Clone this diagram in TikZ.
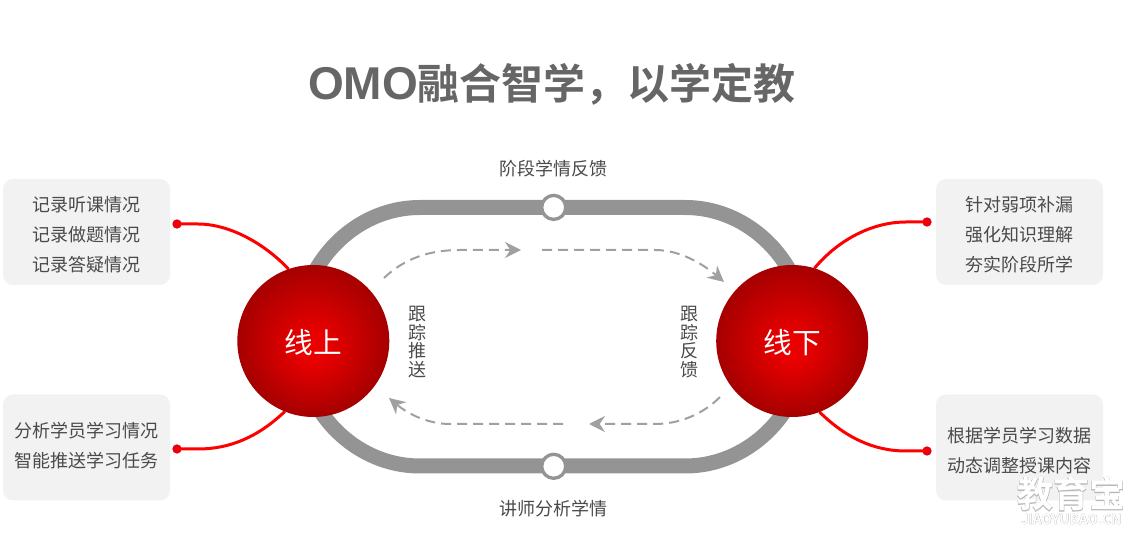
\documentclass[tikz,border=0pt]{standalone}
\usepackage{fontspec}
\setmainfont{Noto Sans CJK SC}
\newfontfamily\latinbold{Liberation Sans Bold}
\newfontfamily\wmstroke{Noto Sans CJK SC Bold}[FakeBold=2.5]
\newfontfamily\wmfill{Noto Sans CJK SC Bold}
\usetikzlibrary{arrows.meta}
\definecolor{trackgray}{HTML}{949494}
\definecolor{dashgray}{HTML}{A0A0A0}
\definecolor{boxgray}{HTML}{F2F2F2}
\definecolor{textgray}{HTML}{4A4A4A}
\definecolor{titlegray}{HTML}{666666}
\definecolor{sphin}{HTML}{EA0000}
\definecolor{sphout}{HTML}{A60000}
\definecolor{reddot}{HTML}{E60012}
\definecolor{wmgray}{HTML}{B8B8B8}
\tikzset{
  x=0.75pt,y=-0.75pt,
  infobox/.style={draw=none,fill=boxgray,rounded corners=7.5pt,minimum width=125.25pt,minimum height=79.5pt,inner sep=0pt},
  infotext/.style={text=textgray,font=\fontsize{13.5pt}{22.5pt}\selectfont,align=center,inner sep=0pt},
  vtext/.style={text=textgray,font=\fontsize{13.5pt}{13.8pt}\selectfont,align=center,inner sep=0pt},
  label/.style={text=textgray,font=\fontsize{13.5pt}{16pt}\selectfont,inner sep=0pt},
  hub/.style={circle,minimum size=114pt,inner sep=0pt,outer sep=0pt},
  hubtext/.style={text=white,inner sep=0pt,font=\fontsize{21.5pt}{24pt}\selectfont},
  track/.style={draw=trackgray,line width=11.25pt},
  station/.style={circle,draw=trackgray,fill=white,line width=2.5pt,minimum size=18pt,inner sep=0pt},
  redline/.style={draw=red,line width=2.25pt},
  reddotn/.style={circle,fill=reddot,minimum size=7pt,inner sep=0pt},
  flow/.style={draw=dashgray,line width=1.5pt,dash pattern=on 7.5pt off 4.5pt,-{Stealth[length=12pt,width=12pt,inset=4pt]}},
}
\begin{document}
\begin{tikzpicture}
\useasboundingbox (0,0) rectangle (1147,548);
% title
\node[text=titlegray,inner sep=0pt,font=\fontsize{31.5pt}{36pt}\selectfont] (title) at (552,84) {{\fontsize{34.5pt}{36pt}\selectfont\latinbold OMO}{\wmfill 融合智学，以学定教}};
% boxes
\node[infobox] (boxLT) at (86.5,232) {};
\node[infobox] (boxLB) at (86.5,447.5) {};
\node[infobox] (boxRT) at (1019.5,232) {};
\node[infobox] (boxRB) at (1019.5,447.5) {};
\node[infotext] (txtLT) at (86,235) {记录听课情况\\记录做题情况\\记录答疑情况};
\node[infotext] (txtLB) at (86,446) {分析学员学习情况\\智能推送学习任务};
\node[infotext] (txtRT) at (1019,235) {针对弱项补漏\\强化知识理解\\夯实阶段所学};
\node[infotext] (txtRB) at (1019,451) {根据学员学习数据\\动态调整授课内容};
% track
\coordinate (tl) at (420,207.5);
\coordinate (tr) at (685,207.5);
\coordinate (br) at (685,466);
\coordinate (bl) at (420,466);
\draw[track] (tl) -- (tr)
  .. controls (752,207.5) and (807,266) .. (807,336.75)
  .. controls (807,408) and (752,466) .. (br) -- (bl)
  .. controls (353,466) and (298,408) .. (298,336.75)
  .. controls (298,266) and (353,207.5) .. (tl) -- cycle;
\node[station] (stTop) at (553.7,207.4) {};
\node[station] (stBot) at (553.7,466.3) {};
\node[label] (lblTop) at (553,169) {阶段学情反馈};
\node[label] (lblBot) at (553,509) {讲师分析学情};
% hubs (anchors) and red connectors
\node[hub] (on) at (313.3,341) {};
\node[hub] (off) at (792.2,341) {};
\node[reddotn] (dLT) at (177,224) {};
\node[reddotn] (dLB) at (177,449) {};
\node[reddotn] (dRT) at (927,222) {};
\node[reddotn] (dRB) at (927,451) {};
\draw[redline] (dLT.center) -- (198,224) .. controls (228,224) and (263,242) .. (on.109);
\draw[redline] (dLB.center) -- (198,449) .. controls (230,449) and (258,437) .. (on.248);
\draw[redline] (dRT.center) -- (906,222) .. controls (872,222) and (838,240) .. (off.73);
\draw[redline] (dRB.center) -- (906,451) .. controls (873,451) and (845,437) .. (off.291);
% spheres: nested discs, highlight slightly below the centre
\foreach \cx in {313.3,792.2}{
  \foreach \r in {76,75,...,1}{
    \pgfmathsetmacro{\cy}{341+9*(1-\r/76)}
    \pgfmathsetmacro{\p}{min(100,max(0,100*(76-\r)/62))}
    \fill[sphin!\p!sphout] (\cx,\cy) circle[radius=\r*0.75pt];
  }
}
\node[hubtext] (onl) at (313.5,343) {线上};
\node[hubtext] (offl) at (792.5,343) {线下};
% dashed flows
\coordinate (f1a) at (384,278);
\coordinate (f1b) at (521,250);
\coordinate (f2a) at (542,250);
\coordinate (f2b) at (724,282);
\coordinate (f3a) at (720,397);
\coordinate (f3b) at (589,424);
\coordinate (f4a) at (563,424);
\coordinate (f4b) at (389,398);
\draw[flow] (f1a) .. controls (405,258) and (430,250) .. (460,250) -- (f1b);
\draw[flow] (f2a) -- (655,250) .. controls (680,250) and (703,264) .. (f2b);
\draw[flow] (f3a) .. controls (703,414) and (680,424) .. (655,424) -- (f3b);
\draw[flow] (f4a) -- (450,424) .. controls (428,424) and (408,414) .. (f4b);
\node[vtext] (vL) at (417,342) {跟\\踪\\推\\送};
\node[vtext] (vR) at (689,342) {跟\\踪\\反\\馈};
% watermark
\node[inner sep=0pt,text=wmgray,font=\fontsize{27pt}{30pt}\selectfont\wmstroke] (wm1s) at (1071,494) {教育宝};
\node[inner sep=0pt,text=white,font=\fontsize{27pt}{30pt}\selectfont\wmfill] (wm1) at (1071,494) {教育宝};
\node[inner sep=0pt,text=wmgray,font=\fontsize{10.2pt}{12pt}\selectfont\wmstroke] (wm2s) at (1071,519) {JIAOYUBAO.CN};
\node[inner sep=0pt,text=white,font=\fontsize{10.2pt}{12pt}\selectfont\wmfill] (wm2) at (1071,519) {JIAOYUBAO.CN};
\end{tikzpicture}
\end{document}
